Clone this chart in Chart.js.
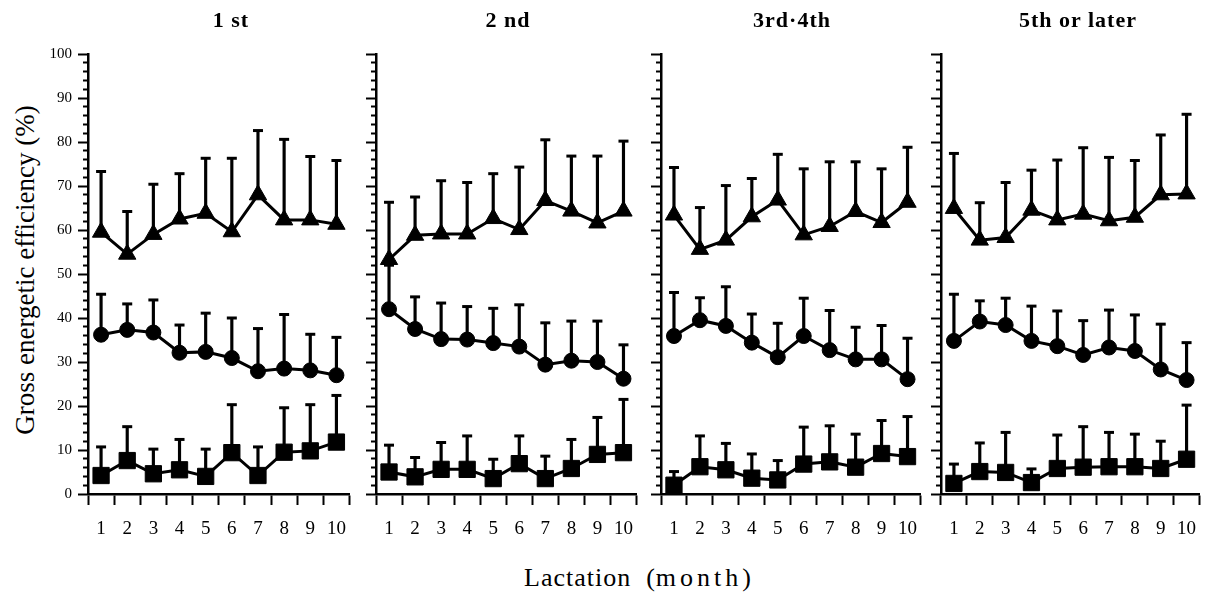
<!DOCTYPE html>
<html>
<head>
<meta charset="utf-8">
<script src="https://cdn.jsdelivr.net/npm/chart.js@4/dist/chart.umd.min.js"></script>
<style>
  body { margin: 0; background: #fff; width: 1205px; height: 603px; position: relative; overflow: hidden; font-family: "Liberation Serif", "DejaVu Serif", serif; }
  canvas { position: absolute; top: 0; }
  .title { position: absolute; top: 7px; font-weight: bold; font-size: 22px; letter-spacing: 1px; transform: translateX(-50%); white-space: pre; }
  #ytitle { position: absolute; left: 25px; top: 270px; font-size: 27px; white-space: pre; transform: translate(-50%, -50%) rotate(-90deg); }
  #xtitle { position: absolute; left: 638px; top: 563px; font-size: 26px; letter-spacing: 1px; white-space: pre; transform: translateX(-50%); }
  #xtitle span { letter-spacing: 4px; }
</style>
</head>
<body>
<div id="ytitle">Gross energetic efficiency (%)</div>
<div id="xtitle">Lactation  (<span>month</span>)</div>

<script>
// months on the x axis
const months = ['1', '2', '3', '4', '5', '6', '7', '8', '9', '10'];
const panelTitles = ['1 st', '2 nd', '3rd\u00b74th', '5th or later'];

// 1st lactation
const tri1 = [59.5, 54.5, 59, 62.5, 63.8, 59.6, 68, 62.3, 62.3, 61.3];
const tri1Top = [73.3, 64.2, 70.4, 72.8, 76.3, 76.3, 82.6, 80.6, 76.7, 75.8];
const cir1 = [36.2, 37.3, 36.7, 32.1, 32.3, 30.9, 27.9, 28.5, 28.1, 27.0];
const cir1Top = [45.4, 43.2, 44.1, 38.4, 41.1, 40.0, 37.6, 40.8, 36.3, 35.6];
const sq1 = [4.2, 7.6, 4.6, 5.5, 4.0, 9.4, 4.2, 9.5, 9.8, 11.8];
const sq1Top = [10.7, 15.3, 10.2, 12.4, 10.2, 20.3, 10.7, 19.6, 20.3, 22.4];

// 2nd
const tri2 = [53.3, 58.8, 59.1, 59.1, 62.6, 60.1, 66.7, 64.3, 61.6, 64.3];
const tri2Top = [66.3, 67.5, 71.2, 70.8, 72.8, 74.3, 80.5, 76.8, 76.8, 80.2];
const cir2 = [42.0, 37.5, 35.2, 35.1, 34.3, 33.5, 29.4, 30.3, 30.0, 26.2];
const cir2Top = [52, 44.8, 43.4, 42.6, 42.2, 43.0, 38.9, 39.3, 39.3, 33.9];
const sq2 = [5.0, 3.9, 5.6, 5.6, 3.5, 6.9, 3.5, 5.8, 9.0, 9.4];
const sq2Top = [11.1, 8.3, 11.7, 13.2, 7.9, 13.2, 8.6, 12.4, 17.4, 21.5];

// 3rd-4th
const tri3 = [63.4, 55.6, 57.7, 63.0, 66.8, 58.9, 60.8, 64.2, 61.7, 66.3];
const tri3Top = [74.2, 65.1, 70.1, 71.7, 77.2, 73.9, 75.5, 75.5, 73.9, 78.8];
const cir3 = [35.9, 39.5, 38.2, 34.4, 31.1, 35.9, 32.7, 30.6, 30.6, 26.1];
const cir3Top = [45.8, 44.6, 47.1, 40.9, 38.8, 44.5, 41.7, 37.9, 38.3, 35.4];
const sq3 = [2.0, 6.2, 5.5, 3.6, 3.2, 6.8, 7.3, 6.1, 9.2, 8.5];
const sq3Top = [5.1, 13.2, 11.5, 9.1, 7.6, 15.2, 15.5, 13.6, 16.7, 17.6];

// 5th or later
const tri4 = [64.9, 57.7, 58.3, 64.5, 62.3, 63.6, 62.1, 62.9, 68.0, 68.2];
const tri4Top = [77.4, 66.2, 70.8, 73.6, 75.9, 78.7, 76.5, 75.8, 81.6, 86.3];
const cir4 = [34.8, 39.2, 38.4, 34.8, 33.6, 31.6, 33.3, 32.5, 28.3, 25.9];
const cir4Top = [45.4, 43.9, 44.5, 42.7, 41.6, 39.4, 41.8, 40.7, 38.6, 34.4];
const sq4 = [2.4, 5.1, 4.9, 2.6, 5.8, 6.1, 6.2, 6.2, 5.8, 7.9];
const sq4Top = [6.8, 11.6, 14.0, 5.7, 13.4, 15.3, 14.0, 13.6, 12.0, 20.2];

const panels = [
  { tri: tri1, triTop: tri1Top, cir: cir1, cirTop: cir1Top, sq: sq1, sqTop: sq1Top },
  { tri: tri2, triTop: tri2Top, cir: cir2, cirTop: cir2Top, sq: sq2, sqTop: sq2Top },
  { tri: tri3, triTop: tri3Top, cir: cir3, cirTop: cir3Top, sq: sq3, sqTop: sq3Top },
  { tri: tri4, triTop: tri4Top, cir: cir4, cirTop: cir4Top, sq: sq4, sqTop: sq4Top },
];

// layout of the four plot areas (pixels)
const areaLeft = [88, 376, 661, 941];
const areaWidth = [262, 261, 260, 259];
const titleX = [231, 508, 792, 1078];
const yAxisW = 50, xAxisH = 50, padRight = 12;
const areaTop = 54, areaBottom = 494;

function stem(mean, top) {
  return {
    type: 'bar',
    data: mean.map((m, i) => [m, top[i]]),
    backgroundColor: '#000',
    barThickness: 2.5,
    grouped: false,
    order: 3,
  };
}

function cap(top) {
  return {
    type: 'line',
    data: top,
    showLine: false,
    pointStyle: 'line',
    pointRadius: 5,
    pointBorderWidth: 3,
    pointBorderColor: '#000',
    clip: false,
    order: 2,
  };
}

function series(values, style, r) {
  return {
    type: 'line',
    data: values,
    borderColor: '#000',
    borderWidth: 3,
    pointStyle: style,
    pointRadius: r,
    pointBackgroundColor: '#000',
    pointBorderColor: '#000',
    pointBorderWidth: 1,
    clip: false,
    order: 1,
  };
}

panels.forEach((p, k) => {
  const canvas = document.createElement('canvas');
  const w = yAxisW + areaWidth[k] + padRight;
  canvas.width = w;
  canvas.height = 603;
  canvas.style.left = (areaLeft[k] - yAxisW) + 'px';
  canvas.style.width = w + 'px';
  canvas.style.height = '603px';
  document.body.appendChild(canvas);

  const t = document.createElement('div');
  t.className = 'title';
  t.style.left = titleX[k] + 'px';
  t.textContent = panelTitles[k];
  document.body.appendChild(t);

  new Chart(canvas.getContext('2d'), {
    data: {
      labels: months,
      datasets: [
        stem(p.tri, p.triTop), stem(p.cir, p.cirTop), stem(p.sq, p.sqTop),
        cap(p.triTop), cap(p.cirTop), cap(p.sqTop),
        series(p.tri, 'triangle', 10),
        series(p.cir, 'circle', 7.5),
        series(p.sq, 'rect', 11.5),
      ]
    },
    options: {
      responsive: false,
      animation: false,
      layout: { padding: { top: areaTop, bottom: 603 - areaBottom - xAxisH, left: 0, right: padRight } },
      plugins: { legend: { display: false }, tooltip: { enabled: false } },
      scales: {
        x: {
          type: 'category',
          offset: true,
          afterFit: s => { s.height = xAxisH; },
          grid: { offset: true, drawOnChartArea: false, tickLength: 11, tickColor: '#000', tickWidth: 2 },
          border: { color: '#000', width: 2.5 },
          ticks: { color: '#000', padding: 13, maxRotation: 0, autoSkip: false, font: { family: 'Liberation Serif', size: 19 } },
        },
        y: {
          min: 0,
          max: 100,
          afterFit: s => { s.width = yAxisW; },
          grid: {
            drawOnChartArea: false,
            tickLength: 10,
            tickColor: '#000',
            tickWidth: 2,
            tickBorderDash: ctx => (ctx.tick && ctx.tick.value % 10 === 0) ? [] : [0, 5, 5],
          },
          border: { color: '#000', width: 2.5 },
          ticks: {
            stepSize: 2,
            autoSkip: false,
            color: '#000',
            padding: 6,
            font: { family: 'Liberation Serif', size: 15 },
            callback: v => (k === 0 && v % 10 === 0) ? v : '',
          },
        },
      },
    },
  });
});
</script>
</body>
</html>
